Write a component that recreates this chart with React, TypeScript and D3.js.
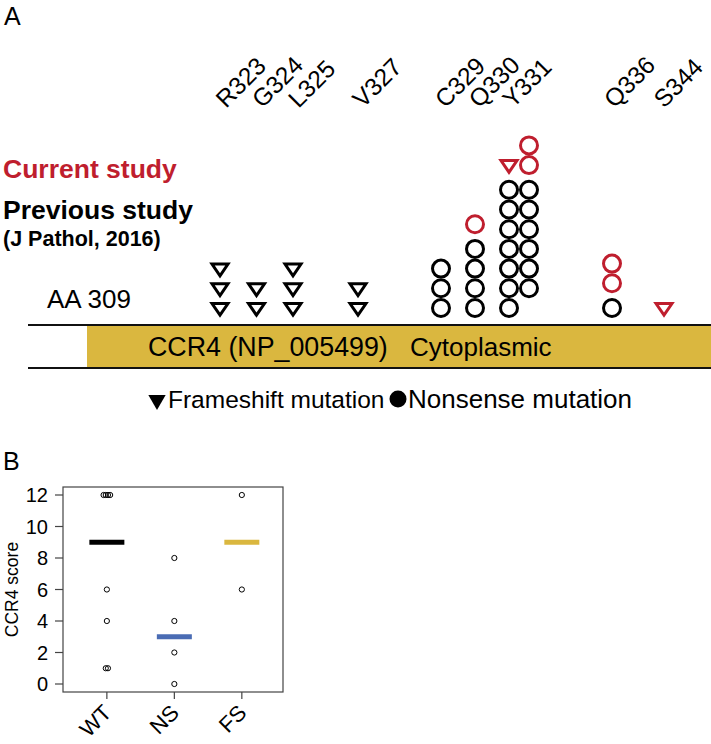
import React from "react";
import * as d3 from "d3";

// ---------- Panel A data ----------
const siteLabels = ["R323", "G324", "L325", "V327", "C329", "Q330", "Y331", "Q336", "S344"];
const siteAA = [323, 324, 325, 327, 329, 330, 331, 336, 344];
const prevFrameshift = [3, 2, 3, 2, 0, 0, 0, 0, 0];
const prevNonsense = [0, 0, 0, 0, 3, 4, 13, 1, 0];
const curFrameshift = [0, 0, 0, 0, 0, 0, 1, 0, 1];
const curNonsense = [0, 0, 0, 0, 0, 1, 2, 2, 0];

// ---------- Panel B data ----------
const groups = ["WT", "NS", "FS"];
const wtScores = [12, 12, 12, 12, 6, 4, 1, 1];
const nsScores = [8, 4, 2, 0];
const fsScores = [12, 6];
const groupScores = [wtScores, nsScores, fsScores];
const medianColors = ["#000000", "#4a6cb4", "#dab73f"];
const yTicks = [0, 2, 4, 6, 8, 10, 12];

const RED = "#bf1e2e";
const GOLD = "#dab73f";
const FONT = "'Liberation Sans', Arial, sans-serif";

type Mark = { x: number; y: number; shape: "tri" | "circ"; current: boolean };

function buildMarks(xScale: (v: number) => number): Mark[] {
  const base = 308;
  const step = 19.7;
  const gap = 5;
  const maxPerCol = 7;
  const colW = 20;
  const out: Mark[] = [];
  siteAA.forEach((aa, i) => {
    const x0 = xScale(aa);
    const prev: ("tri" | "circ")[] = [];
    for (let k = 0; k < prevFrameshift[i]; k++) prev.push("tri");
    for (let k = 0; k < prevNonsense[i]; k++) prev.push("circ");
    const nCols = Math.max(1, Math.ceil(prev.length / maxPerCol));
    const colTop: number[] = [];
    for (let c = 0; c < nCols; c++) {
      const items = prev.slice(c * maxPerCol, (c + 1) * maxPerCol);
      const startLevel = c === 0 ? 0 : Math.min(maxPerCol, prev.length) - items.length;
      items.forEach((s, k) => {
        const lvl = startLevel + k;
        out.push({ x: x0 + c * colW, y: base - lvl * step + (s === "tri" ? 1 : 0), shape: s, current: false });
      });
      colTop.push(startLevel + items.length);
    }
    const hasPrev = prev.length > 0;
    const g = hasPrev ? gap : 0;
    let lvl0 = colTop[0] || 0;
    for (let k = 0; k < curFrameshift[i]; k++) {
      out.push({ x: x0, y: base - (lvl0 + k) * step - g + 1, shape: "tri", current: true });
    }
    if (nCols === 1) lvl0 += curFrameshift[i];
    const lastC = nCols - 1;
    const lvlL = nCols === 1 ? lvl0 : colTop[lastC];
    for (let k = 0; k < curNonsense[i]; k++) {
      out.push({ x: x0 + lastC * colW, y: base - (lvlL + k) * step - g, shape: "circ", current: true });
    }
  });
  return out;
}

export default function App() {
  const W = 711, H = 744;

  // schematic (non-proportional) residue axis
  const xA = d3.scaleLinear()
    .domain([323, 325, 327, 329, 331, 336, 344])
    .range([220, 293, 358, 441, 509, 612, 664]);
  const labelShift = d3.scaleLinear().domain([323, 344]).range([6, 0]);
  const marks = buildMarks(xA);
  const triPath = "M-8,-5.5 L8,-5.5 L0,6.2 Z";

  const bx = d3.scaleLinear().domain([0.35, 3.61]).range([63, 283]);
  const by = d3.scaleLinear().domain([0, 12]).range([684, 495]);
  const box = { x0: 63, x1: 283, y0: 487, y1: 692 };

  const pts: { x: number; y: number }[] = [];
  groupScores.forEach((arr, gi) => {
    const counts = d3.rollup(arr, (v) => v.length, (d) => d);
    const seen = new Map<number, number>();
    arr.forEach((v) => {
      const n = counts.get(v) || 1;
      const idx = seen.get(v) || 0;
      seen.set(v, idx + 1);
      const off = (idx - (n - 1) / 2) * 2.2;
      pts.push({ x: bx(gi + 1) + off, y: by(v) });
    });
  });

  const legendTri = d3.symbol(d3.symbolTriangle, 130)();

  return (
    <svg width={W} height={H} style={{ position: "absolute", left: 0, top: 0, background: "#fff" }} fontFamily={FONT}>
      <text x={4} y={25} fontSize={25}>A</text>

      {siteLabels.map((lab, i) => (
        <text key={lab} transform={`translate(${xA(siteAA[i]) + labelShift(siteAA[i])},109) rotate(-45)`} fontSize={24.5}>
          {lab}
        </text>
      ))}

      <text x={3} y={178} fontSize={26.5} fontWeight="bold" fill={RED}>Current study</text>
      <text x={3} y={219} fontSize={26.5} fontWeight="bold">Previous study</text>
      <text x={3} y={246} fontSize={21.5} fontWeight="bold">(J Pathol, 2016)</text>
      <text x={47} y={308} fontSize={26}>AA 309</text>

      <rect x={87} y={325} width={W - 87} height={43} fill={GOLD} />
      <line x1={28} x2={W} y1={325} y2={325} stroke="#111" strokeWidth={2} />
      <line x1={28} x2={W} y1={368} y2={368} stroke="#111" strokeWidth={2} />
      <text x={148} y={356} fontSize={26.8}>CCR4 (NP_005499)</text>
      <text x={410} y={356} fontSize={26}>Cytoplasmic</text>

      {marks.map((m, i) =>
        m.shape === "circ" ? (
          <circle key={i} cx={m.x} cy={m.y} r={8.5} fill="none" stroke={m.current ? RED : "#000"} strokeWidth={3} />
        ) : (
          <path key={i} d={triPath} transform={`translate(${m.x},${m.y})`} fill="none" stroke={m.current ? RED : "#000"} strokeWidth={3} />
        )
      )}

      <path d={legendTri} transform="translate(157,400) rotate(180)" fill="#000" />
      <text x={168} y={408} fontSize={24.5}>Frameshift mutation</text>
      <circle cx={398} cy={399} r={8.5} fill="#000" />
      <text x={408} y={408} fontSize={26}>Nonsense mutation</text>

      <text x={3} y={470} fontSize={25}>B</text>
      <rect x={box.x0} y={box.y0} width={box.x1 - box.x0} height={box.y1 - box.y0} fill="none" stroke="#444" strokeWidth={1.2} />
      {yTicks.map((t) => (
        <g key={t}>
          <line x1={55} x2={box.x0} y1={by(t)} y2={by(t)} stroke="#444" strokeWidth={1.2} />
          <text x={48} y={by(t)} dy="0.36em" textAnchor="end" fontSize={20}>{t}</text>
        </g>
      ))}
      <text transform={`translate(18,${(box.y0 + box.y1) / 2}) rotate(-90)`} textAnchor="middle" fontSize={17.5}>CCR4 score</text>
      {groups.map((g, gi) => (
        <g key={g}>
          <line x1={bx(gi + 1)} x2={bx(gi + 1)} y1={box.y1} y2={box.y1 + 7} stroke="#444" strokeWidth={1.2} />
          <text transform={`translate(${bx(gi + 1) + 6},714) rotate(-45)`} textAnchor="end" fontSize={22}>{g}</text>
        </g>
      ))}
      {groupScores.map((arr, gi) => {
        const med = d3.median(arr) as number;
        return (
          <line key={gi} x1={bx(gi + 1) - 17.5} x2={bx(gi + 1) + 17.5} y1={by(med)} y2={by(med)} stroke={medianColors[gi]} strokeWidth={5} />
        );
      })}
      {pts.map((p, i) => (
        <circle key={i} cx={p.x} cy={p.y} r={2.6} fill="none" stroke="#000" strokeWidth={1} />
      ))}
    </svg>
  );
}
